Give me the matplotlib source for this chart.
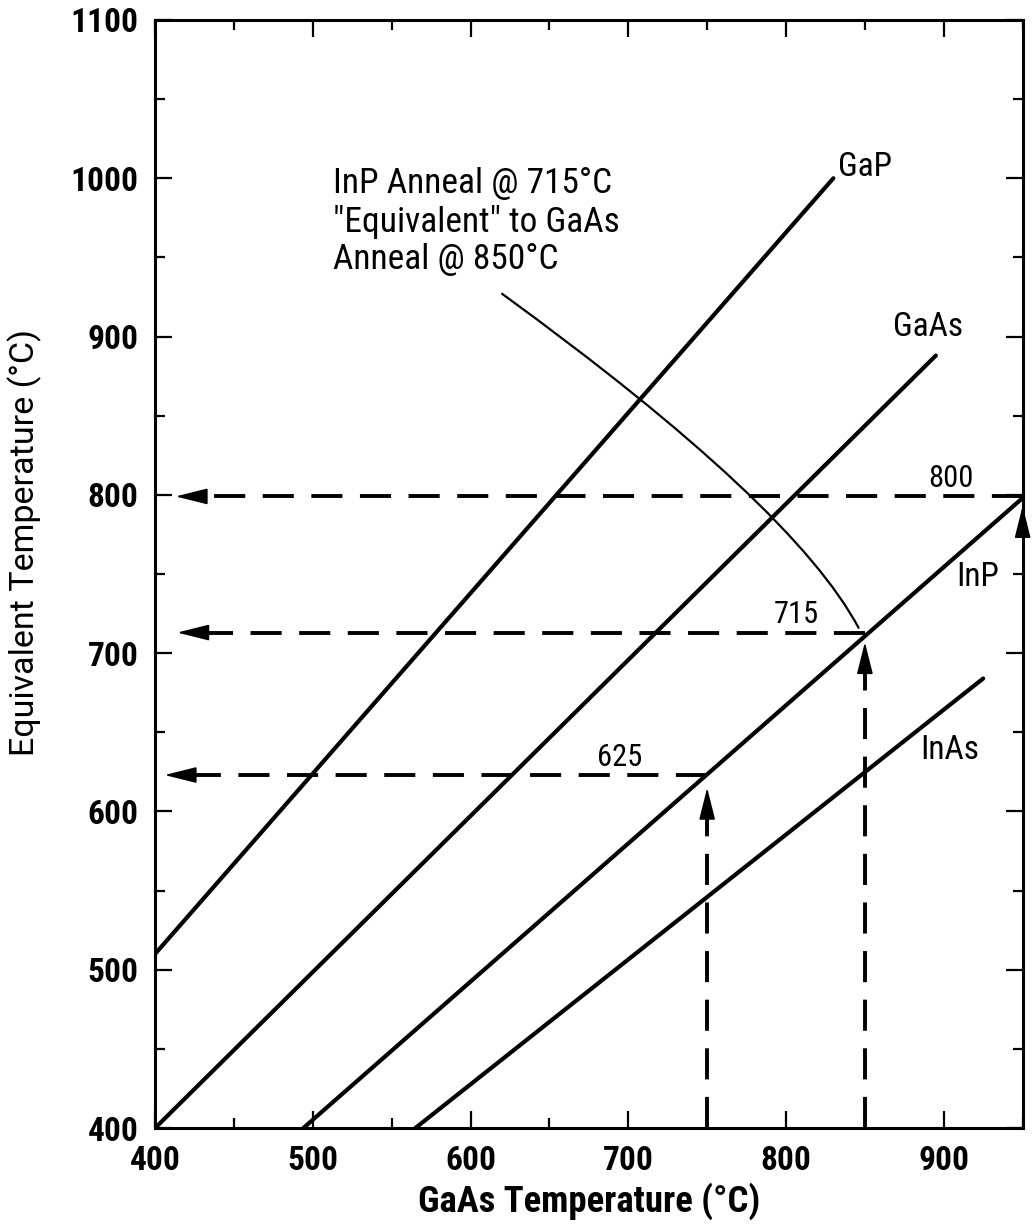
import matplotlib
matplotlib.use("Agg")
import matplotlib.pyplot as plt
from matplotlib.ticker import MultipleLocator

plt.rcParams['font.family'] = ['Roboto Condensed', 'DejaVu Sans']

# end points of each compound line (GaAs temp, equivalent temp)
gap_x = [400, 830]
gap_y = [510, 1000]
gaas_x = [400, 895]
gaas_y = [400, 888]
inp_x = [494, 950]
inp_y = [400, 798]
inas_x = [565, 925]
inas_y = [400, 684]

# read-off construction: anneal temperature -> equivalent InP temperature
anneal_x = [750, 850, 950]
equiv_y = [623, 713, 799]
equiv_labels = ['625', '715', '800']
arrow_tip_x = [406, 414, 413]
vert_tip_y = [615, 707, 793]
label_x = [680, 792, 890]

curve_names = ['GaP', 'GaAs', 'InP', 'InAs']
name_x = [833, 868, 908, 885]
name_y = [1007, 906, 748, 639]

fig = plt.figure(figsize=(10.34, 12.24), dpi=100)
ax = fig.add_axes([0.150, 0.0784, 0.839, 0.9053])

lw_main = 3.0
for xs, ys in [(gap_x, gap_y), (gaas_x, gaas_y), (inp_x, inp_y), (inas_x, inas_y)]:
    ax.plot(xs, ys, color='black', lw=lw_main, solid_capstyle='round')

dash = (0, (8, 4.5))
head = '-|>,head_length=2.0,head_width=0.5'
for i in range(3):
    x0, y0 = anneal_x[i], equiv_y[i]
    # horizontal dashed read-off to the y axis
    ax.plot([x0, arrow_tip_x[i] + 14], [y0, y0], color='black', lw=2.8, ls=dash)
    ax.annotate('', xy=(arrow_tip_x[i], y0), xytext=(arrow_tip_x[i] + 18, y0),
                arrowprops=dict(arrowstyle=head, color='black', lw=1.2,
                                shrinkA=0, shrinkB=0))
    # vertical dashed line up from the anneal temperature
    if i < 2:
        ax.plot([x0, x0], [400, vert_tip_y[i] - 14], color='black', lw=2.8, ls=dash)
    ax.annotate('', xy=(x0, vert_tip_y[i]), xytext=(x0, vert_tip_y[i] - 18),
                arrowprops=dict(arrowstyle=head, color='black', lw=1.2,
                                shrinkA=0, shrinkB=0), annotation_clip=False)
    ax.text(label_x[i], y0 + 6, equiv_labels[i],
            fontsize=22, va='baseline', ha='left')

for name, tx, ty in zip(curve_names, name_x, name_y):
    ax.text(tx, ty, name, fontsize=24, ha='left', va='center')

ax.text(513, 1007, 'InP Anneal @ 715\u00b0C\n"Equivalent" to GaAs\nAnneal @ 850\u00b0C',
        fontsize=25.5, ha='left', va='top', linespacing=1.17)
ax.annotate('', xy=(846, 716), xytext=(620, 927),
            arrowprops=dict(arrowstyle='-', color='black', lw=1.6,
                            connectionstyle='angle3,angleA=-36,angleB=-62',
                            shrinkA=0, shrinkB=0))

ax.set_xlim(400, 950)
ax.set_ylim(400, 1100)
ax.xaxis.set_major_locator(MultipleLocator(100))
ax.xaxis.set_minor_locator(MultipleLocator(50))
ax.yaxis.set_major_locator(MultipleLocator(100))
ax.yaxis.set_minor_locator(MultipleLocator(50))
ax.tick_params(which='both', direction='in', top=True, right=True, width=1.6,
               labelsize=24)
ax.tick_params(which='major', length=12, pad=12)
ax.tick_params(which='minor', length=7)
for lab in ax.get_xticklabels() + ax.get_yticklabels():
    lab.set_fontweight('bold')
for sp in ax.spines.values():
    sp.set_linewidth(2.2)

ax.set_xlabel('GaAs Temperature (\u00b0C)', fontsize=26.5, fontweight='bold', labelpad=4)
ax.set_ylabel('Equivalent Temperature (\u00b0C)', fontsize=24.5,
              family=['Roboto', 'DejaVu Sans'])
ax.yaxis.set_label_coords(-0.13, 0.528)

fig.savefig('out.png', dpi=100, facecolor='white')
